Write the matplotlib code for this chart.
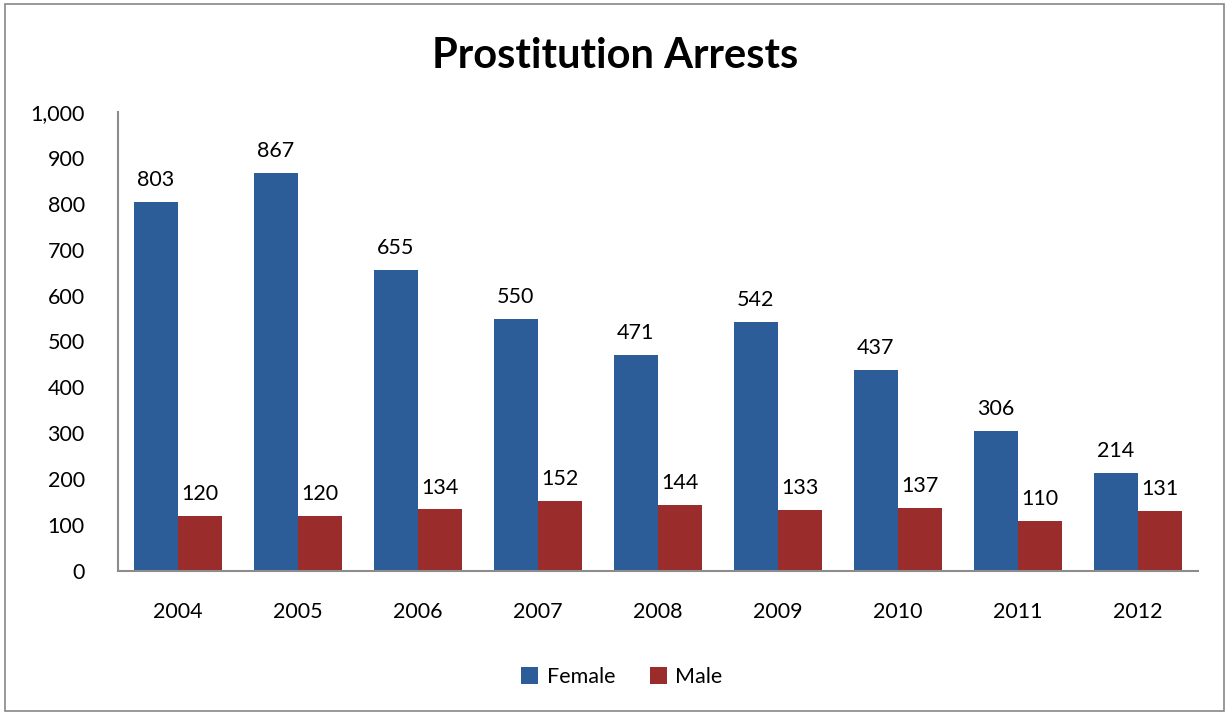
import matplotlib.pyplot as plt
import numpy as np
from matplotlib.patches import Rectangle

# --------- data ---------
years = ['2004', '2005', '2006', '2007', '2008', '2009', '2010', '2011', '2012']
female = [803, 867, 655, 550, 471, 542, 437, 306, 214]
male = [120, 120, 134, 152, 144, 133, 137, 110, 131]

blue = '#2C5D98'
red = '#9A2C2C'

plt.rcParams['font.family'] = ['Lato', 'DejaVu Sans']

fig = plt.figure(figsize=(12.31, 7.15), dpi=100)
ax = fig.add_axes([0.0959, 0.2014, 0.8773, 0.642])

x = np.arange(len(years))
w = 0.37
b1 = ax.bar(x - w / 2, female, w, color=blue, label='Female')
b2 = ax.bar(x + w / 2, male, w, color=red, label='Male')

# value labels
for bars, vals in ((b1, female), (b2, male)):
    for r, v in zip(bars, vals):
        ax.text(r.get_x() + r.get_width() / 2, v + 26, str(v),
                ha='center', va='bottom', fontsize=15.5)

ax.set_xlim(-0.5, len(years) - 0.5)
ax.set_ylim(0, 1000)
ax.set_yticks(range(0, 1001, 100))
ax.set_yticklabels(['{:,}'.format(v) for v in range(0, 1001, 100)], fontsize=15.5)
ax.set_xticks(x)
ax.set_xticklabels(years, fontsize=15.5)
ax.tick_params(axis='both', length=0)
ax.tick_params(axis='y', pad=24)
ax.tick_params(axis='x', pad=22)

for s in ('top', 'right'):
    ax.spines[s].set_visible(False)
for s in ('left', 'bottom'):
    ax.spines[s].set_color('#8C8C8C')
    ax.spines[s].set_linewidth(1.5)

fig.text(0.5, 0.922, 'Prostitution Arrests', ha='center', va='center',
         fontsize=30, fontweight='bold')

fig.legend(handles=[b1, b2], loc='center', bbox_to_anchor=(0.505, 0.053),
           ncol=2, frameon=False, fontsize=15.5, handlelength=0.8,
           handleheight=0.8, columnspacing=1.6, handletextpad=0.4)

# chart border
fig.patches.append(Rectangle((0.004, 0.006), 0.99, 0.988, transform=fig.transFigure,
                             fill=False, edgecolor='#888888', linewidth=1.2))

fig.savefig('out.png', dpi=100)
